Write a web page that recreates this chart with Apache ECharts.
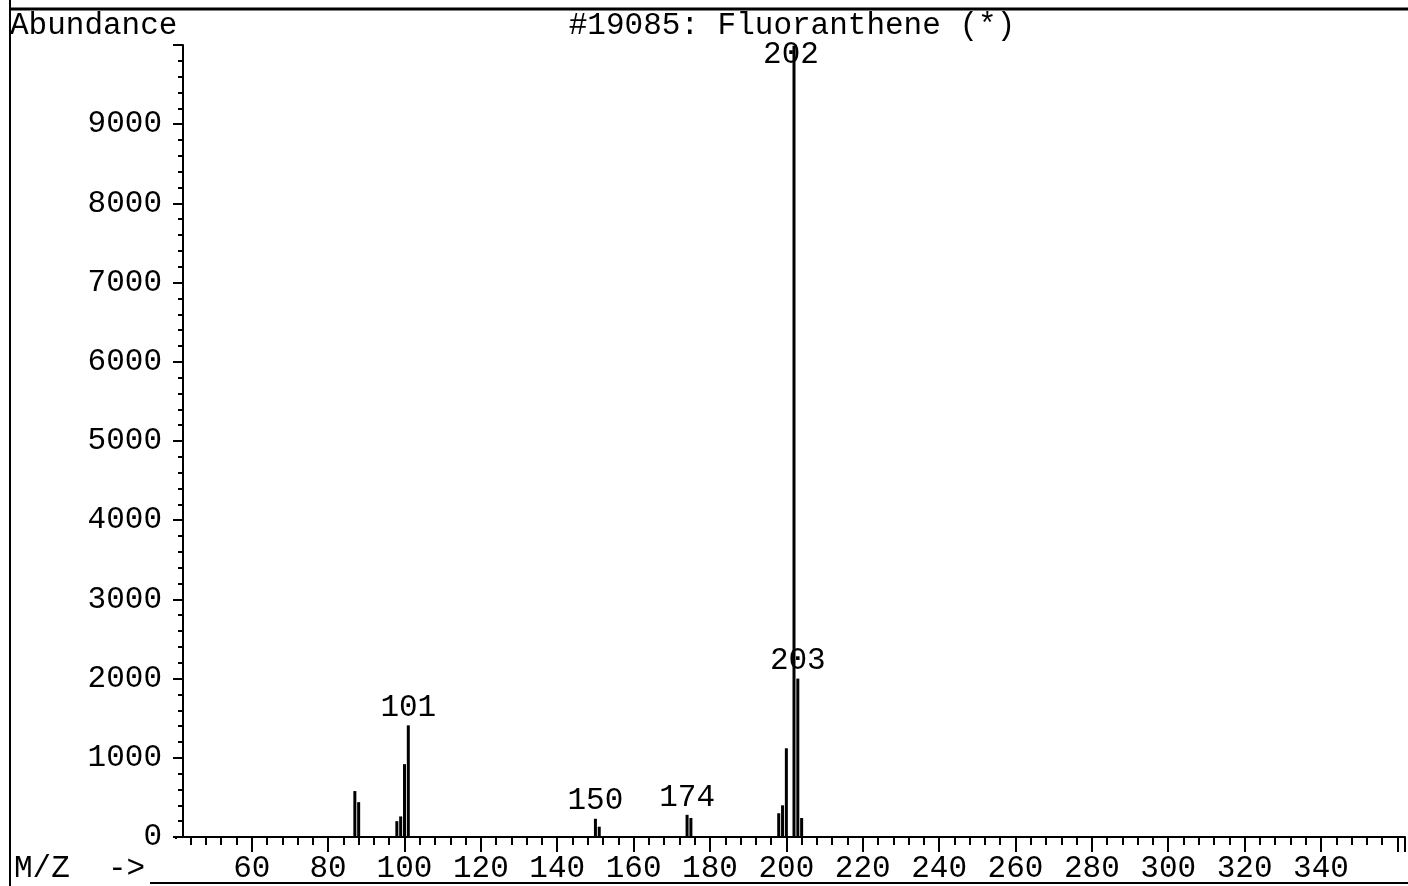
<!DOCTYPE html>
<html>
<head>
<meta charset="utf-8">
<script src="https://cdn.jsdelivr.net/npm/echarts@6/dist/echarts.min.js"></script>
<style>
html,body{margin:0;padding:0;background:#fff;}
#chart{width:1408px;height:886px;}
</style>
</head>
<body>
<div id="chart"></div>
<script>
// m/z values and abundances
const mzValues = [87, 88, 98, 99, 100, 101, 150, 151, 174, 175, 198, 199, 200, 202, 203, 204];
const abundances = [580, 440, 200, 260, 920, 1410, 230, 130, 280, 240, 300, 400, 1120, 9990, 2000, 240];
const labelledPeaks = [101, 150, 174, 202, 203];
const xTickLabels = [60, 80, 100, 120, 140, 160, 180, 200, 220, 240, 260, 280, 300, 320, 340];
const yTickLabels = [0, 1000, 2000, 3000, 4000, 5000, 6000, 7000, 8000, 9000];
const titleText = '#19085: Fluoranthene (*)';
const yName = 'Abundance';
const xName = 'M/Z';

const FONT = 'Liberation Mono';
const FS = 31;
const pxPerUnit = 3.82;
const xMin = 40, xMax = 362;
const gridLeft = 183 - 2 * pxPerUnit;
const gridRight = 1408 - gridLeft - (xMax - xMin) * pxPerUnit;

const data = mzValues.map((m, i) => {
  const d = { value: [m, abundances[i]] };
  if (labelledPeaks.includes(m)) {
    d.label = { show: true, position: 'top', distance: 2, formatter: String(m) };
    if (m === 202) d.label = { show: true, position: 'top', offset: [-3, 30], formatter: String(m) };
  }
  return d;
});

const chart = echarts.init(document.getElementById('chart'));
chart.setOption({
  animation: false,
  backgroundColor: '#fff',
  textStyle: { fontFamily: FONT },
  grid: { left: gridLeft, right: gridRight, top: 45, bottom: 49, containLabel: false },
  xAxis: {
    type: 'value', min: xMin, max: xMax, interval: 20,
    axisLine: { show: true, lineStyle: { color: '#000', width: 2 } },
    axisTick: { show: true, length: 15, lineStyle: { color: '#000', width: 2 } },
    minorTick: { show: true, splitNumber: 5, length: 8, lineStyle: { color: '#000', width: 2 } },
    splitLine: { show: false },
    axisLabel: {
      color: '#000', fontFamily: FONT, fontSize: FS, margin: 16,
      formatter: v => xTickLabels.includes(v) ? String(v) : ''
    }
  },
  yAxis: {
    type: 'value', min: 0, max: 10000, interval: 1000, offset: -2 * pxPerUnit,
    axisLine: { show: true, lineStyle: { color: '#000', width: 2 } },
    axisTick: { show: true, length: 10, lineStyle: { color: '#000', width: 2 } },
    minorTick: { show: true, splitNumber: 5, length: 5, lineStyle: { color: '#000', width: 2 } },
    splitLine: { show: false },
    axisLabel: {
      color: '#000', fontFamily: FONT, fontSize: FS, margin: 21,
      formatter: v => yTickLabels.includes(v) ? String(v) : ''
    }
  },
  series: [{
    type: 'bar',
    data: data,
    barWidth: 3,
    itemStyle: { color: '#000' },
    label: { color: '#000', fontFamily: FONT, fontSize: FS },
    z: 3
  }],
  graphic: [
    { type: 'rect', shape: { x: 168, y: 839, width: 13, height: 18 }, style: { fill: '#fff' }, z: 100 },
    { type: 'line', shape: { x1: 10, y1: 9, x2: 1408, y2: 9 }, style: { stroke: '#000', lineWidth: 3 } },
    { type: 'line', shape: { x1: 10, y1: 0, x2: 10, y2: 886 }, style: { stroke: '#000', lineWidth: 2 } },
    { type: 'line', shape: { x1: 150, y1: 883, x2: 1408, y2: 883 }, style: { stroke: '#000', lineWidth: 2 } },
    { type: 'text', left: 10, top: 10, style: { text: yName, font: FS + 'px "' + FONT + '"', fill: '#000' } },
    { type: 'text', x: 792, y: 10, style: { text: titleText, font: FS + 'px "' + FONT + '"', fill: '#000', textAlign: 'center' } },
    { type: 'text', x: 14, y: 853, style: { text: xName, font: FS + 'px "' + FONT + '"', fill: '#000' } },
    { type: 'text', x: 108, y: 853, style: { text: '->', font: FS + 'px "' + FONT + '"', fill: '#000' } }
  ]
});
</script>
</body>
</html>
